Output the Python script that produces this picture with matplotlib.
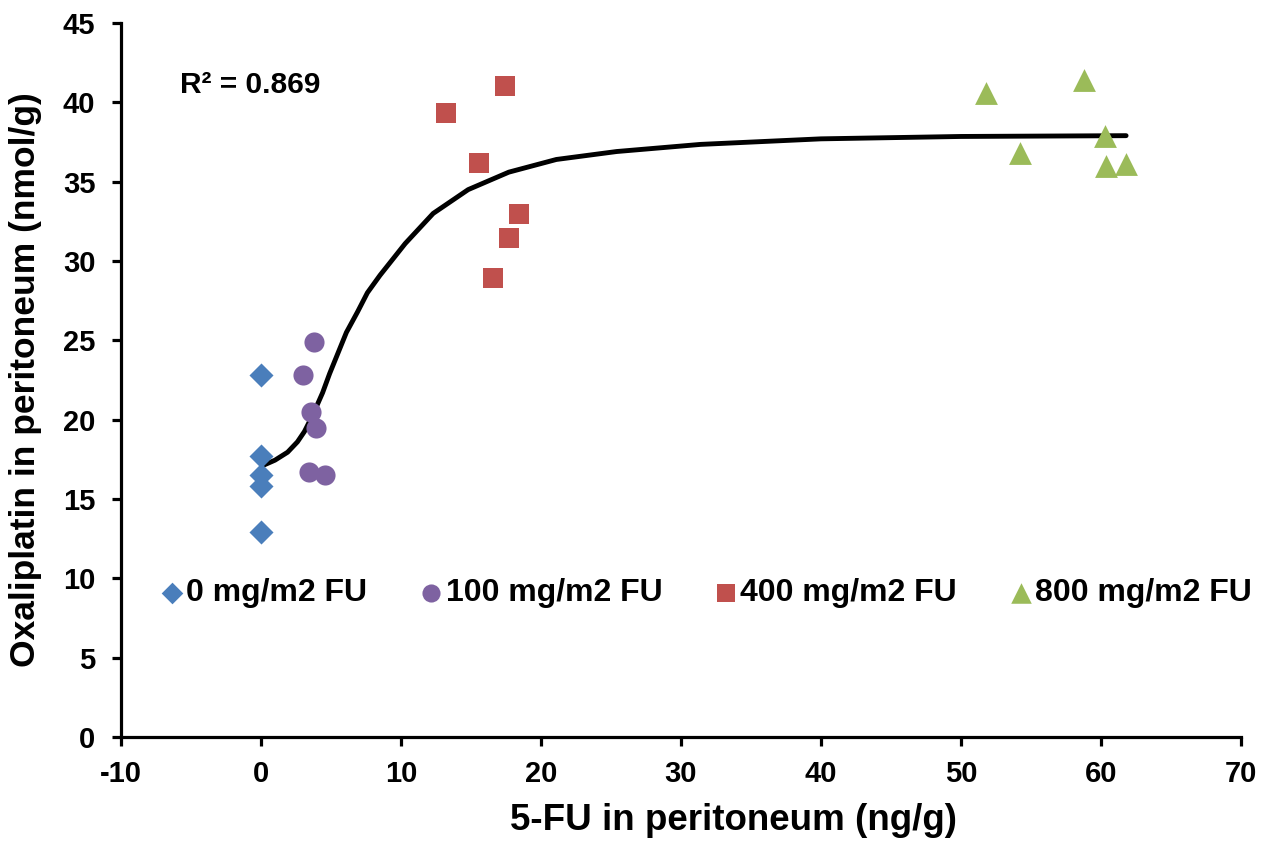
import matplotlib
matplotlib.use("Agg")
import matplotlib.pyplot as plt

plt.rcParams['font.family'] = ['Liberation Sans', 'DejaVu Sans']
plt.rcParams['font.weight'] = 'bold'
plt.rcParams['axes.unicode_minus'] = False

# data
fu0_x = [0, 0, 0, 0, 0]
fu0_y = [22.8, 17.7, 16.5, 15.8, 12.9]

fu100_x = [3.8, 3.0, 3.6, 3.9, 3.4, 4.6]
fu100_y = [24.9, 22.8, 20.5, 19.5, 16.7, 16.5]

fu400_x = [17.4, 13.2, 15.6, 18.4, 17.7, 16.6]
fu400_y = [41.0, 39.3, 36.15, 32.95, 31.45, 28.9]

fu800_x = [51.8, 58.8, 60.3, 54.2, 60.4, 61.8]
fu800_y = [40.6, 41.4, 37.9, 36.8, 36.0, 36.1]

# fitted curve
fit_x = [0.1, 1.0, 1.9, 2.6, 3.1, 3.7, 4.4, 4.9, 5.5, 6.1, 6.9, 7.6, 8.5,
         10.3, 12.3, 14.8, 17.7, 21.1, 25.4, 31.4, 40, 50, 61.8]
fit_y = [17.1, 17.45, 17.95, 18.6, 19.25, 20.3, 21.7, 22.9, 24.2, 25.5, 26.8, 28.0, 29.1,
         31.1, 33.0, 34.5, 35.6, 36.4, 36.9, 37.35, 37.7, 37.85, 37.9]

labels = ['0 mg/m2 FU', '100 mg/m2 FU', '400 mg/m2 FU', '800 mg/m2 FU']

fig = plt.figure(figsize=(12.74, 8.43), dpi=100)
ax = fig.add_axes([0.095, 0.1257, 0.879, 0.847])

ax.plot(fit_x, fit_y, color='black', lw=3.5, solid_capstyle='round', solid_joinstyle='round', zorder=2)
ax.scatter(fu0_x, fu0_y, marker='D', s=150, color='#4a7ebb', label=labels[0], zorder=3, linewidths=0)
ax.scatter(fu100_x, fu100_y, marker='o', s=210, color='#7e62a1', label=labels[1], zorder=3, linewidths=0)
ax.scatter(fu400_x, fu400_y, marker='s', s=210, color='#c0504d', label=labels[2], zorder=3, linewidths=0)
ax.scatter(fu800_x, fu800_y, marker='^', s=270, color='#9bbb59', label=labels[3], zorder=3, linewidths=0)

ax.set_xlim(-10, 70)
ax.set_ylim(0, 45)
ax.set_xticks(range(-10, 71, 10))
ax.set_yticks(range(0, 46, 5))

for s in ['top', 'right']:
    ax.spines[s].set_visible(False)
for s in ['left', 'bottom']:
    ax.spines[s].set_linewidth(2.3)
ax.tick_params(direction='out', length=6.5, width=2.3, labelsize=21)
ax.tick_params(axis='x', pad=10)
ax.tick_params(axis='y', pad=12)

ax.set_xlabel('5-FU in peritoneum (ng/g)', fontsize=26.5, fontweight='bold')
ax.set_ylabel('Oxaliplatin in peritoneum (nmol/g)', fontsize=25.5, fontweight='bold')
ax.xaxis.set_label_coords(0.547, -0.092)
ax.yaxis.set_label_coords(-0.0705, 0.5)

ax.text(0.053, 0.913, 'R² = 0.869', transform=ax.transAxes, fontsize=21.5, fontweight='bold', va='center')

ax.legend(loc='center left', bbox_to_anchor=(0.034, 0.2017), ncol=4, frameon=False, fontsize=23,
          handletextpad=0.05, columnspacing=1.6, markerscale=0.9, handlelength=0.8,
          borderpad=0, borderaxespad=0)

fig.savefig('out.png', dpi=100)
